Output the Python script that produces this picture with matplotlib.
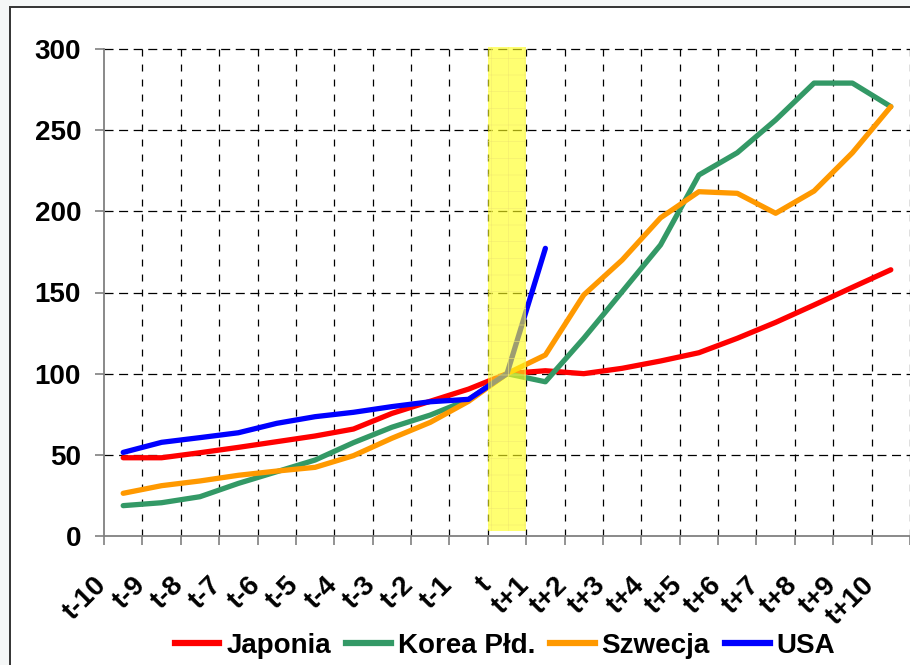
import numpy as np
import matplotlib
matplotlib.use("Agg")
import matplotlib.pyplot as plt
from matplotlib.patches import Rectangle
from matplotlib.lines import Line2D
from matplotlib.transforms import ScaledTranslation

plt.rcParams['font.family'] = ['Liberation Sans', 'DejaVu Sans']
plt.rcParams['font.weight'] = 'bold'
plt.rcParams['lines.scale_dashes'] = False
plt.rcParams['hatch.linewidth'] = 0.4

# Index values (t = 100)
categories = ['t-10', 't-9', 't-8', 't-7', 't-6', 't-5', 't-4', 't-3', 't-2', 't-1', 't',
              't+1', 't+2', 't+3', 't+4', 't+5', 't+6', 't+7', 't+8', 't+9', 't+10']
japonia = [48.2, 48.2, 51.3, 54.6, 58.1, 61.6, 65.9, 75.5, 83.0, 90.5, 100,
           101.8, 100.0, 103.3, 107.8, 112.9, 121.8, 131.6, 142.3, 153.2, 164.0]
korea = [18.7, 20.5, 24.2, 32.4, 39.6, 46.8, 57.5, 67.0, 74.5, 84.0, 100,
         95.0, 121.8, 150.5, 179.3, 222.4, 236.1, 256.3, 279.0, 279.0, 264.5]
szwecja = [26.3, 31.0, 33.9, 37.4, 40.0, 42.3, 49.5, 60.2, 70.0, 83.0, 100,
           111.5, 148.5, 170.0, 196.0, 212.1, 211.1, 198.8, 212.5, 236.1, 264.5]
usa = [51.5, 57.7, 60.6, 63.6, 69.4, 73.5, 76.2, 79.7, 82.7, 84.2, 100,
       177.2] + [np.nan] * 9

series_names = ['Japonia', 'Korea Płd.', 'Szwecja', 'USA']
series_colors = ['#FF0000', '#339966', '#FF9900', '#0000FF']
highlight = 't'
y_ticks = [0, 50, 100, 150, 200, 250, 300]

W, H = 910, 665
fig = plt.figure(figsize=(W / 100, H / 100), dpi=100, facecolor='#f5f7f7')

# chart frame
fig.patches.append(Rectangle((9.5 / W, -0.1), 1.2, 1 - 6.5 / H + 0.1,
                             transform=fig.transFigure, facecolor='white',
                             edgecolor='#333333', lw=1.4, zorder=-10))

ax = fig.add_axes([104 / W, 1 - 536 / H, 806 / W, 487 / H])
ax.set_facecolor('none')

x = np.arange(len(categories))
for vals, name, col in zip([japonia, korea, szwecja, usa], series_names, series_colors):
    ax.plot(x, vals, color=col, lw=3.8, solid_joinstyle='round',
            solid_capstyle='round', zorder=3, label=name)

# highlighted period
hi = categories.index(highlight)
ax.add_patch(Rectangle((hi - 0.5, 3.3), 1.0, 297.7, facecolor=(1, 1, 0.1, 0.62),
                       edgecolor='#f2ea70', lw=0, hatch='+', zorder=4,
                       clip_on=False))

ax.set_xlim(-0.5, len(categories) - 0.5)
ax.set_ylim(0, 300)

# grid
for yv in y_ticks[1:]:
    ax.axhline(yv, color='black', lw=0.9, dashes=(6.5, 4.0), zorder=1, clip_on=False)
for xb in np.arange(0.5, len(categories), 1.0):
    ax.axvline(xb, color='black', lw=0.9, dashes=(5.0, 5.8), zorder=1, clip_on=False)

for s in ['top', 'right']:
    ax.spines[s].set_visible(False)
for s in ['left', 'bottom']:
    ax.spines[s].set_color('#808080')
    ax.spines[s].set_linewidth(1.3)

ax.set_yticks(y_ticks)
ax.set_yticklabels([str(v) for v in y_ticks], fontsize=20, fontweight='bold')
ax.tick_params(axis='y', direction='out', length=6.5, width=1.2, color='#808080', pad=10)

ax.set_xticks(x)
ax.set_xticklabels(categories, fontsize=20, fontweight='bold', rotation=45,
                   ha='right', va='top')
ax.set_xticks(np.arange(-0.5, len(categories), 1.0), minor=True)
ax.tick_params(axis='x', which='major', length=0, pad=26)
ax.tick_params(axis='x', which='minor', direction='out', length=6.5, width=1.2,
               color='#808080')
shift = ScaledTranslation(-11 / 100, 0, fig.dpi_scale_trans)
for lab in ax.get_xticklabels():
    lab.set_transform(lab.get_transform() + shift)

handles = [Line2D([], [], color=c, lw=4.5) for c in series_colors]
fig.legend(handles, series_names, loc='center', bbox_to_anchor=(505 / W, 1 - 646 / H),
           ncol=4, frameon=False, handlelength=1.6, handletextpad=0.25,
           columnspacing=0.55, borderpad=0, prop={'weight': 'bold', 'size': 20})

fig.savefig('out.png', dpi=100, facecolor=fig.get_facecolor())
